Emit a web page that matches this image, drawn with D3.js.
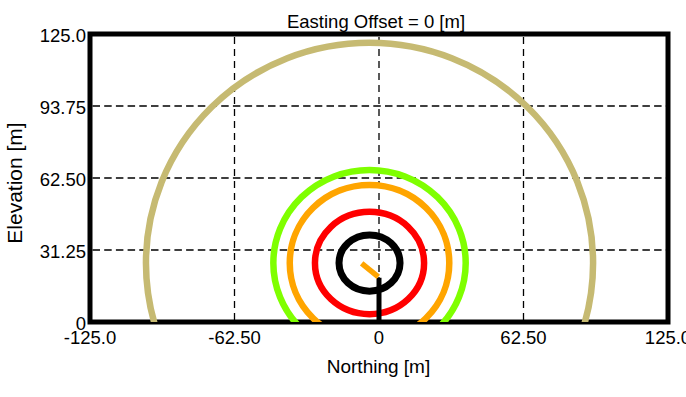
<!DOCTYPE html>
<html>
<head>
<meta charset="utf-8">
<script src="https://cdn.jsdelivr.net/npm/d3@7"></script>
<style>
  html, body { margin: 0; padding: 0; background: #fff; }
  svg { display: block; }
  text { font-family: "Liberation Sans", Arial, sans-serif; fill: #000; }
</style>
</head>
<body>
<svg id="chart" width="686" height="397"></svg>
<script>
// ---- data ----
const titleText = "Easting Offset = 0 [m]";
const xLabel = "Northing [m]";
const yLabel = "Elevation [m]";
const xTicks = [-125, -62.5, 0, 62.5, 125];
const xTickLabels = ["-125.0", "-62.50", "0", "62.50", "125.0"];
const yTicks = [0, 31.25, 62.5, 93.75, 125];
const yTickLabels = ["0", "31.25", "62.50", "93.75", "125.0"];

// rings (ellipses) around a common centre, outermost first
const ringNames = ["tan", "green", "orange", "red", "black"];
const ringColors = ["#C6BA72", "#7FFF00", "#FFA500", "#FF0000", "#000000"];
const ringRx = [96.7, 41.6, 34.5, 23.6, 13.2];
const ringRy = [95.6, 40.4, 33.9, 22.2, 12.2];
const ringCx = [-4.1, -4.1, -4.1, -4.1, -4.1];
const ringCy = [25.6, 25.6, 25.6, 25.6, 25.6];

// stem (black) and pointer (orange) segments
const stemX = [0, 0];
const stemY = [0, 19.2];
const pointerX = [-7.5, -0.3];
const pointerY = [25.4, 19.6];

// ---- layout ----
const svg = d3.select("#chart");
const L = 90, R = 668, T = 34, B = 322;
const x = d3.scaleLinear().domain([-125, 125]).range([L, R]);
const y = d3.scaleLinear().domain([0, 125]).range([B, T]);

svg.append("defs").append("clipPath").attr("id", "plotclip")
  .append("rect").attr("x", L).attr("y", T).attr("width", R - L).attr("height", B - T);

// grid
const grid = svg.append("g");
grid.selectAll("line.vg").data(xTicks.filter(d => d > -125 && d < 125)).enter()
  .append("line").attr("class", "vg")
  .attr("x1", d => x(d)).attr("x2", d => x(d))
  .attr("y1", T + 3).attr("y2", B)
  .attr("stroke", "#000").attr("stroke-width", 1.3)
  .attr("stroke-dasharray", "7,5");
grid.selectAll("line.hg").data(yTicks.filter(d => d > 0 && d < 125)).enter()
  .append("line").attr("class", "hg")
  .attr("y1", d => y(d)).attr("y2", d => y(d))
  .attr("x1", L + 2.5).attr("x2", R)
  .attr("stroke", "#000").attr("stroke-width", 1.3)
  .attr("stroke-dasharray", "7.5,4.2");

// frame
svg.append("rect").attr("x", L).attr("y", T).attr("width", R - L).attr("height", B - T)
  .attr("fill", "none").attr("stroke", "#000").attr("stroke-width", 5);

// rings
const plot = svg.append("g").attr("clip-path", "url(#plotclip)");
const ringData = ringNames.map((n, i) => ({
  name: n, color: ringColors[i], cx: ringCx[i], cy: ringCy[i], rx: ringRx[i], ry: ringRy[i]
}));
plot.selectAll("ellipse").data(ringData).enter().append("ellipse")
  .attr("cx", d => x(d.cx)).attr("cy", d => y(d.cy))
  .attr("rx", d => x(d.cx + d.rx) - x(d.cx))
  .attr("ry", d => y(d.cy) - y(d.cy + d.ry))
  .attr("fill", "none").attr("stroke", d => d.color)
  .attr("stroke-width", d => d.name === "black" ? 7 : 6.5);

const line = d3.line().x(d => x(d[0])).y(d => y(d[1]));
plot.append("path").datum(stemX.map((v, i) => [v, stemY[i]]))
  .attr("d", line).attr("stroke", "#000").attr("stroke-width", 5).attr("fill", "none");
plot.append("path").datum(pointerX.map((v, i) => [v, pointerY[i]]))
  .attr("d", line).attr("stroke", "#FFA500").attr("stroke-width", 5.5).attr("fill", "none");

// tick labels
svg.selectAll("text.xt").data(xTicks).enter().append("text").attr("class", "xt")
  .attr("x", d => x(d)).attr("y", 344)
  .attr("text-anchor", "middle").style("font-size", "18.5px")
  .text((d, i) => xTickLabels[i]);
svg.selectAll("text.yt").data(yTicks).enter().append("text").attr("class", "yt")
  .attr("x", 86).attr("y", d => y(d) + 8)
  .attr("text-anchor", "end").style("font-size", "18.5px")
  .text((d, i) => yTickLabels[i]);

// titles
svg.append("text").attr("x", 376).attr("y", 28).attr("text-anchor", "middle")
  .style("font-size", "18.5px").text(titleText);
svg.append("text").attr("x", 378.5).attr("y", 373).attr("text-anchor", "middle")
  .style("font-size", "19px").text(xLabel);
svg.append("text").attr("transform", "translate(22,183) rotate(-90)")
  .attr("text-anchor", "middle").style("font-size", "21px").text(yLabel);
</script>
</body>
</html>
